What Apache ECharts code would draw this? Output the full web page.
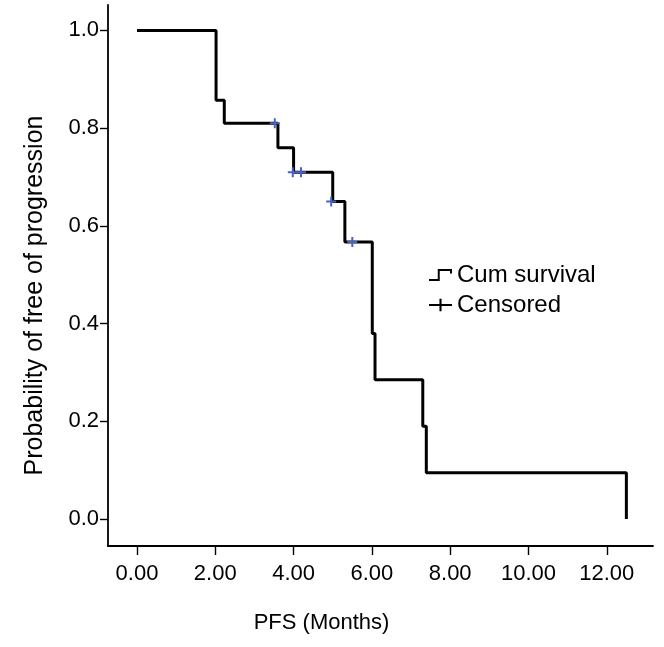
<!DOCTYPE html>
<html>
<head>
<meta charset="utf-8">
<script src="https://cdn.jsdelivr.net/npm/echarts@6/dist/echarts.min.js"></script>
<style>html,body{margin:0;padding:0;background:#fff}#c{width:664px;height:647px}</style>
</head>
<body>
<div id="c"></div>
<script>
// Kaplan-Meier step data
const eventTimes = [0, 2.02, 2.23, 3.6, 4.0, 5.0, 5.31, 6.01, 6.08, 7.3, 7.39, 12.5];
const survival   = [1.0, 0.857, 0.81, 0.76, 0.71, 0.65, 0.567, 0.38, 0.285, 0.19, 0.095, 0.0];
// Censored observations
const censorTimes = [3.52, 3.98, 4.19, 4.96, 5.5];
const censorSurv  = [0.81, 0.71, 0.71, 0.65, 0.567];
// Tick labels
const xTicks = [0, 2, 4, 6, 8, 10, 12];
const yTicks = [0, 0.2, 0.4, 0.6, 0.8, 1.0];

const FONT = 'Liberation Sans, Arial, sans-serif';
const stepIcon = 'path://M0,11 L8,11 L8,2 L21,2 L21,6 L19.2,6 L19.2,3.8 L9.8,3.8 L9.8,12.8 L0,12.8 Z';
const legendPlus = 'path://M0,6 L22,6 L22,8 L0,8 Z M10,1 L12,1 L12,13 L10,13 Z';
const plusIcon = 'path://M4,0 L6,0 L6,4 L10,4 L10,6 L6,6 L6,10 L4,10 L4,6 L0,6 L0,4 L4,4 Z';

const chart = echarts.init(document.getElementById('c'), null, {renderer: 'canvas'});
chart.setOption({
  animation: false,
  backgroundColor: '#fff',
  grid: {left: 108, right: 11, top: 5, bottom: 101, containLabel: false},
  legend: {
    orient: 'vertical', left: 424, top: 258, itemGap: 6, itemWidth: 23, itemHeight: 14,
    textStyle: {fontFamily: FONT, fontSize: 24, color: '#000', padding: [0, 0, 0, 0]},
    data: [
      {name: 'Cum survival', icon: stepIcon, itemStyle: {color: '#000'}},
      {name: 'Censored', icon: legendPlus, itemStyle: {color: '#000'}}
    ]
  },
  xAxis: {
    type: 'value', min: -0.74, max: 13.18,
    name: 'PFS (Months)', nameLocation: 'middle', nameGap: 66,
    nameTextStyle: {fontFamily: FONT, fontSize: 22, color: '#000', padding: [0, 118, 0, 0]},
    axisLine: {onZero: false, lineStyle: {color: '#000', width: 1.8}},
    axisTick: {show: true, length: 9, lineStyle: {color: '#000', width: 1.4}, customValues: xTicks},
    axisLabel: {fontFamily: FONT, fontSize: 22, color: '#000', margin: 17,
      customValues: xTicks, formatter: v => v.toFixed(2)},
    splitLine: {show: false}
  },
  yAxis: {
    type: 'value', min: -0.055, max: 1.052,
    name: 'Probability of free of progression', nameLocation: 'middle', nameGap: 60,
    nameTextStyle: {fontFamily: FONT, fontSize: 25, color: '#000', padding: [0, 40, 0, 0]},
    axisLine: {show: true, onZero: false, lineStyle: {color: '#000', width: 1.8}},
    axisTick: {show: true, length: 8, lineStyle: {color: '#000', width: 1.4}, customValues: yTicks},
    axisLabel: {fontFamily: FONT, fontSize: 22, color: '#000', margin: 9,
      customValues: yTicks, formatter: v => v.toFixed(1)},
    splitLine: {show: false}
  },
  series: [
    {
      name: 'Cum survival', type: 'line', step: 'end', symbol: 'none',
      lineStyle: {color: '#000', width: 3}, itemStyle: {color: '#000'},
      data: eventTimes.map((t, i) => [t, survival[i]]), z: 2
    },
    {
      name: 'Censored', type: 'scatter', symbol: plusIcon, symbolSize: 10,
      itemStyle: {color: '#4a63c2', opacity: 1},
      data: censorTimes.map((t, i) => [t, censorSurv[i]]), z: 3
    }
  ]
});
</script>
</body>
</html>
